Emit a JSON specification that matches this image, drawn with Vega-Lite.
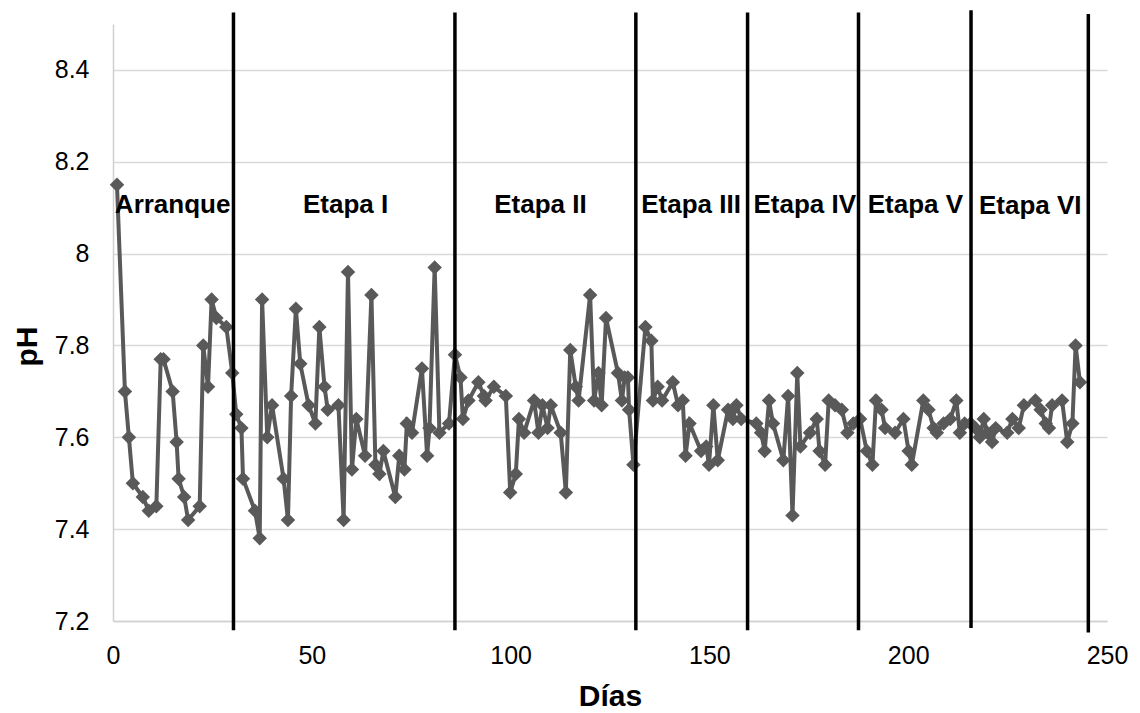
{
  "$schema": "https://vega.github.io/schema/vega-lite/v6.json",
  "width": 994,
  "height": 597,
  "autosize": "none",
  "padding": {"left": 113, "top": 24, "right": 33, "bottom": 92},
  "background": "white",
  "config": {
    "view": {"stroke": null},
    "font": "Liberation Sans",
    "axis": {
      "labelFont": "Liberation Sans",
      "titleFont": "Liberation Sans",
      "labelFontSize": 25,
      "labelColor": "#000000",
      "titleFontSize": 30,
      "titleFontWeight": "bold",
      "titleColor": "#000000",
      "ticks": false,
      "tickSize": 0,
      "domainColor": "#d0d0d0",
      "domainWidth": 1.5,
      "gridColor": "#d9d9d9",
      "gridWidth": 1.5
    }
  },
  "datasets": {
    "ph": [
      {"dia": 1, "pH": 8.15}, {"dia": 3, "pH": 7.70}, {"dia": 4, "pH": 7.60}, {"dia": 5, "pH": 7.50},
      {"dia": 7.5, "pH": 7.47}, {"dia": 9, "pH": 7.44}, {"dia": 10.9, "pH": 7.45}, {"dia": 12, "pH": 7.77},
      {"dia": 12.7, "pH": 7.77}, {"dia": 15, "pH": 7.70}, {"dia": 16, "pH": 7.59}, {"dia": 16.5, "pH": 7.51},
      {"dia": 17.9, "pH": 7.47}, {"dia": 18.9, "pH": 7.42}, {"dia": 21.8, "pH": 7.45}, {"dia": 22.7, "pH": 7.80},
      {"dia": 23.9, "pH": 7.71}, {"dia": 24.8, "pH": 7.90}, {"dia": 26, "pH": 7.86}, {"dia": 28.5, "pH": 7.84},
      {"dia": 30, "pH": 7.74}, {"dia": 31, "pH": 7.65}, {"dia": 32.3, "pH": 7.62}, {"dia": 32.7, "pH": 7.51},
      {"dia": 35.7, "pH": 7.44}, {"dia": 36.9, "pH": 7.38}, {"dia": 37.5, "pH": 7.90}, {"dia": 38.8, "pH": 7.60},
      {"dia": 40, "pH": 7.67}, {"dia": 42.9, "pH": 7.51}, {"dia": 44, "pH": 7.42}, {"dia": 44.8, "pH": 7.69},
      {"dia": 46, "pH": 7.88}, {"dia": 47.1, "pH": 7.76}, {"dia": 49.2, "pH": 7.67}, {"dia": 50.9, "pH": 7.63},
      {"dia": 51.9, "pH": 7.84}, {"dia": 53.2, "pH": 7.71}, {"dia": 54, "pH": 7.66}, {"dia": 56.7, "pH": 7.67},
      {"dia": 58, "pH": 7.42}, {"dia": 59.1, "pH": 7.96}, {"dia": 60.1, "pH": 7.53}, {"dia": 61.2, "pH": 7.64},
      {"dia": 63.4, "pH": 7.56}, {"dia": 65, "pH": 7.91}, {"dia": 66, "pH": 7.54}, {"dia": 67, "pH": 7.52},
      {"dia": 68, "pH": 7.57}, {"dia": 71, "pH": 7.47}, {"dia": 72, "pH": 7.56}, {"dia": 73.3, "pH": 7.53},
      {"dia": 73.9, "pH": 7.63}, {"dia": 75.2, "pH": 7.61}, {"dia": 77.7, "pH": 7.75}, {"dia": 79, "pH": 7.56},
      {"dia": 79.6, "pH": 7.62}, {"dia": 80.9, "pH": 7.97}, {"dia": 82.1, "pH": 7.61}, {"dia": 84.5, "pH": 7.63},
      {"dia": 86, "pH": 7.78}, {"dia": 87.4, "pH": 7.73}, {"dia": 88, "pH": 7.64}, {"dia": 89.4, "pH": 7.68},
      {"dia": 91.9, "pH": 7.72}, {"dia": 93.3, "pH": 7.69}, {"dia": 93.7, "pH": 7.68}, {"dia": 95.8, "pH": 7.71},
      {"dia": 98.8, "pH": 7.69}, {"dia": 99.9, "pH": 7.48}, {"dia": 101.3, "pH": 7.52}, {"dia": 102.1, "pH": 7.64},
      {"dia": 103.4, "pH": 7.61}, {"dia": 105.9, "pH": 7.68}, {"dia": 107, "pH": 7.61}, {"dia": 108, "pH": 7.67},
      {"dia": 109.3, "pH": 7.62}, {"dia": 110.1, "pH": 7.67}, {"dia": 112.6, "pH": 7.61}, {"dia": 113.9, "pH": 7.48},
      {"dia": 115, "pH": 7.79}, {"dia": 116.4, "pH": 7.71}, {"dia": 117.1, "pH": 7.68}, {"dia": 120, "pH": 7.91},
      {"dia": 121, "pH": 7.68}, {"dia": 122.1, "pH": 7.74}, {"dia": 122.9, "pH": 7.67}, {"dia": 124, "pH": 7.86},
      {"dia": 127, "pH": 7.74}, {"dia": 128, "pH": 7.68}, {"dia": 128.7, "pH": 7.73}, {"dia": 129.5, "pH": 7.73},
      {"dia": 129.8, "pH": 7.66}, {"dia": 130.9, "pH": 7.54}, {"dia": 133.9, "pH": 7.84}, {"dia": 135.4, "pH": 7.81},
      {"dia": 135.8, "pH": 7.68}, {"dia": 137, "pH": 7.71}, {"dia": 138.1, "pH": 7.68}, {"dia": 140.8, "pH": 7.72},
      {"dia": 142.1, "pH": 7.67}, {"dia": 143.3, "pH": 7.68}, {"dia": 144, "pH": 7.56}, {"dia": 145, "pH": 7.63},
      {"dia": 147.9, "pH": 7.57}, {"dia": 149.2, "pH": 7.58}, {"dia": 149.9, "pH": 7.54}, {"dia": 151, "pH": 7.67},
      {"dia": 152.1, "pH": 7.55}, {"dia": 154.7, "pH": 7.66}, {"dia": 155.9, "pH": 7.64}, {"dia": 156.8, "pH": 7.67},
      {"dia": 158, "pH": 7.64}, {"dia": 161.8, "pH": 7.63}, {"dia": 163, "pH": 7.61}, {"dia": 163.9, "pH": 7.57},
      {"dia": 165, "pH": 7.68}, {"dia": 166, "pH": 7.63}, {"dia": 168.6, "pH": 7.55}, {"dia": 169.8, "pH": 7.69},
      {"dia": 170.9, "pH": 7.43}, {"dia": 172.1, "pH": 7.74}, {"dia": 172.9, "pH": 7.58}, {"dia": 175.3, "pH": 7.61},
      {"dia": 177, "pH": 7.64}, {"dia": 177.7, "pH": 7.57}, {"dia": 179.1, "pH": 7.54}, {"dia": 180, "pH": 7.68},
      {"dia": 181.6, "pH": 7.67}, {"dia": 183.3, "pH": 7.66}, {"dia": 184.7, "pH": 7.61}, {"dia": 186.2, "pH": 7.63},
      {"dia": 187.9, "pH": 7.64}, {"dia": 189.6, "pH": 7.57}, {"dia": 191, "pH": 7.54}, {"dia": 191.9, "pH": 7.68},
      {"dia": 193.3, "pH": 7.66}, {"dia": 194.2, "pH": 7.62}, {"dia": 196.7, "pH": 7.61}, {"dia": 198.8, "pH": 7.64},
      {"dia": 200.1, "pH": 7.57}, {"dia": 200.9, "pH": 7.54}, {"dia": 203.8, "pH": 7.68}, {"dia": 205.1, "pH": 7.66},
      {"dia": 206.4, "pH": 7.62}, {"dia": 207.2, "pH": 7.61}, {"dia": 208.9, "pH": 7.63}, {"dia": 210.6, "pH": 7.64},
      {"dia": 212.1, "pH": 7.68}, {"dia": 213, "pH": 7.61}, {"dia": 214.2, "pH": 7.63}, {"dia": 215.7, "pH": 7.63},
      {"dia": 216.9, "pH": 7.62}, {"dia": 218, "pH": 7.60}, {"dia": 219, "pH": 7.64}, {"dia": 219.9, "pH": 7.61},
      {"dia": 221.1, "pH": 7.59}, {"dia": 222, "pH": 7.62}, {"dia": 224.9, "pH": 7.61}, {"dia": 226.2, "pH": 7.64},
      {"dia": 227.8, "pH": 7.62}, {"dia": 229.1, "pH": 7.67}, {"dia": 232, "pH": 7.68}, {"dia": 233.3, "pH": 7.66},
      {"dia": 234.6, "pH": 7.63}, {"dia": 235.4, "pH": 7.62}, {"dia": 236.2, "pH": 7.67}, {"dia": 238.7, "pH": 7.68},
      {"dia": 240, "pH": 7.59}, {"dia": 241.3, "pH": 7.63}, {"dia": 242.1, "pH": 7.80}, {"dia": 243.2, "pH": 7.72}
    ],
    "etapas": [
      {"dia": 30.3, "y1": 7.18, "y2": 8.525},
      {"dia": 86, "y1": 7.18, "y2": 8.525},
      {"dia": 131.5, "y1": 7.18, "y2": 8.525},
      {"dia": 159.6, "y1": 7.18, "y2": 8.525},
      {"dia": 187.5, "y1": 7.18, "y2": 8.525},
      {"dia": 215.8, "y1": 7.185, "y2": 8.53},
      {"dia": 245.3, "y1": 7.175, "y2": 8.522}
    ],
    "nombres": [
      {"dia": 15, "pH": 8.089, "nombre": "Arranque"},
      {"dia": 58.5, "pH": 8.089, "nombre": "Etapa I"},
      {"dia": 107.5, "pH": 8.089, "nombre": "Etapa II"},
      {"dia": 145.4, "pH": 8.089, "nombre": "Etapa III"},
      {"dia": 174, "pH": 8.089, "nombre": "Etapa IV"},
      {"dia": 201.8, "pH": 8.089, "nombre": "Etapa V"},
      {"dia": 230.7, "pH": 8.086, "nombre": "Etapa VI"}
    ]
  },
  "layer": [
    {
      "data": {"name": "ph"},
      "mark": {
        "type": "line",
        "color": "#595959",
        "strokeWidth": 4,
        "point": {"shape": "diamond", "size": 210, "filled": true, "color": "#595959", "opacity": 1}
      },
      "encoding": {
        "x": {
          "field": "dia", "type": "quantitative",
          "scale": {"domain": [0, 250], "nice": false, "zero": false},
          "axis": {
            "title": "Días", "values": [0, 50, 100, 150, 200, 250], "grid": false,
            "labelPadding": 22, "titleY": 84, "titleBaseline": "alphabetic", "labelFlush": false
          }
        },
        "y": {
          "field": "pH", "type": "quantitative",
          "scale": {"domain": [7.2, 8.5], "nice": false, "zero": false},
          "axis": {
            "title": "pH", "values": [7.2, 7.4, 7.6, 7.8, 8.0, 8.2, 8.4], "grid": true,
            "labelPadding": 24, "labelExpr": "datum.value == 8 ? '8' : format(datum.value, '.1f')",
            "titleX": -77, "titleY": 322, "titleAngle": -90, "titleAlign": "center", "titleBaseline": "alphabetic"
          }
        }
      }
    },
    {
      "data": {"name": "etapas"},
      "mark": {"type": "rule", "color": "#000000", "strokeWidth": 3.5},
      "encoding": {
        "x": {"field": "dia", "type": "quantitative"},
        "y": {"field": "y1", "type": "quantitative"},
        "y2": {"field": "y2"}
      }
    },
    {
      "data": {"name": "nombres"},
      "mark": {"type": "text", "font": "Liberation Sans", "fontSize": 26, "fontWeight": "bold", "color": "#000000", "align": "center", "baseline": "alphabetic"},
      "encoding": {
        "x": {"field": "dia", "type": "quantitative"},
        "y": {"field": "pH", "type": "quantitative"},
        "text": {"field": "nombre"}
      }
    }
  ]
}
